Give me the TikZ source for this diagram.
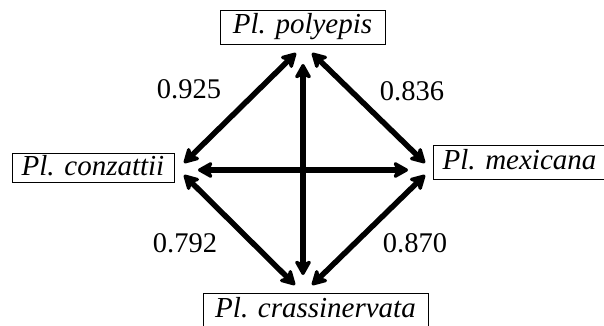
\documentclass[tikz,border=0pt]{standalone}
\usepackage{fontspec}
\setmainfont{Liberation Serif}
\newfontfamily\valfont{Liberation Serif}
\usetikzlibrary{arrows.meta}
\begin{document}
\begin{tikzpicture}[x=1pt,y=-1pt,
  species/.style={draw,line width=0.9pt,inner sep=0pt,font=\fontsize{29}{32}\selectfont\itshape,
     text height=21pt,text depth=7pt,minimum height=34pt},
  val/.style={font=\valfont\fontsize{28.5}{32}\selectfont,inner sep=0pt},
  link/.style={line width=5.5pt,{Stealth[length=18pt,width=20pt,inset=5pt,round]}-{Stealth[length=18pt,width=20pt,inset=5pt,round]}}]
\useasboundingbox (0,0) rectangle (604,326);
\node[species,minimum width=165pt] (pol) at (302.5,27) {Pl. polyepis};
\node[species,minimum width=162pt,minimum height=29pt] (con) at (93,168) {Pl. conzattii};
\node[species,minimum width=173pt] (mex) at (519.5,162) {Pl. mexicana};
\node[species,minimum width=225pt] (cra) at (315.5,310) {Pl. crassinervata};
% arrow end points
\coordinate (pV) at (303,64);
\coordinate (pL) at (296,53);
\coordinate (pR) at (312,53);
\coordinate (cU) at (184,163);
\coordinate (cH) at (198,170);
\coordinate (cD) at (184,175);
\coordinate (mU) at (425,163);
\coordinate (mH) at (408,170);
\coordinate (mD) at (425,175);
\coordinate (rV) at (303,275);
\coordinate (rL) at (295,285);
\coordinate (rR) at (312,285);
\draw[link] (pV) -- (rV);
\draw[link] (cH) -- (mH);
\draw[link] (pL) -- (cU);
\draw[link] (pR) -- (mU);
\draw[link] (cD) -- (rL);
\draw[link] (mD) -- (rR);
\node[val] (v1) at (189,89) {0.925};
\node[val] (v2) at (412,91) {0.836};
\node[val] (v3) at (185,243) {0.792};
\node[val] (v4) at (415,243) {0.870};
\end{tikzpicture}
\end{document}
